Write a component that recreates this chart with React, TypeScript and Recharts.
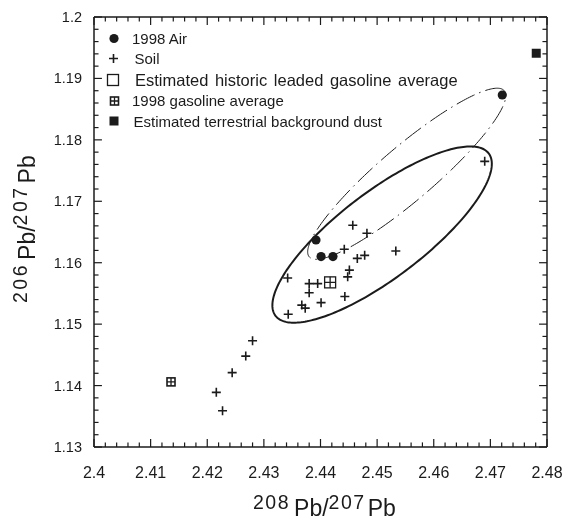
import React from 'react'
import { ScatterChart, Scatter, XAxis, YAxis, Legend, ReferenceLine } from 'recharts'

const FONT = '"Liberation Sans", Arial, Helvetica, sans-serif'
const INK = '#1b1b1b'

// sample points (208Pb/207Pb, 206Pb/207Pb)
const AIR = [
  { x: 2.4392, y: 1.1637 },
  { x: 2.4401, y: 1.1610 },
  { x: 2.4422, y: 1.1610 },
  { x: 2.4721, y: 1.1873 },
]

const SOIL = [
  { x: 2.4690, y: 1.1765 },
  { x: 2.4457, y: 1.1661 },
  { x: 2.4482, y: 1.1648 },
  { x: 2.4442, y: 1.1622 },
  { x: 2.4533, y: 1.1619 },
  { x: 2.4465, y: 1.1607 },
  { x: 2.4478, y: 1.1612 },
  { x: 2.4451, y: 1.1588 },
  { x: 2.4448, y: 1.1577 },
  { x: 2.4342, y: 1.1575 },
  { x: 2.4380, y: 1.1566 },
  { x: 2.4395, y: 1.1566 },
  { x: 2.4380, y: 1.1551 },
  { x: 2.4443, y: 1.1545 },
  { x: 2.4401, y: 1.1535 },
  { x: 2.4367, y: 1.1531 },
  { x: 2.4373, y: 1.1526 },
  { x: 2.4343, y: 1.1516 },
  { x: 2.4216, y: 1.1389 },
  { x: 2.4227, y: 1.1359 },
  { x: 2.4244, y: 1.1421 },
  { x: 2.4268, y: 1.1448 },
  { x: 2.4280, y: 1.1473 },
]

const HISTORIC_GAS = [{ x: 2.4417, y: 1.1568 }]
const GAS_1998 = [{ x: 2.4136, y: 1.1406 }]
const DUST = [{ x: 2.4781, y: 1.1941 }]

const X_DOMAIN = [2.4, 2.48]
const Y_DOMAIN = [1.13, 1.2]
const X_MAJOR = [2.4, 2.41, 2.42, 2.43, 2.44, 2.45, 2.46, 2.47, 2.48]
const X_LABELS = ['2.4', '2.41', '2.42', '2.43', '2.44', '2.45', '2.46', '2.47', '2.48']
const Y_MAJOR = [1.13, 1.14, 1.15, 1.16, 1.17, 1.18, 1.19, 1.2]
const Y_LABELS = ['1.13', '1.14', '1.15', '1.16', '1.17', '1.18', '1.19', '1.2']

// ellipses: centre + two conjugate half-axes, in data units
const SOIL_ELLIPSE = { cx: 2.45088, cy: 1.16458, ax: 0.01882, ay: 0.01322, bx: -0.00461, by: 0.00557 }
const AIR_ELLIPSE = { cx: 2.45523, cy: 1.17448, ax: 0.01722, ay: 0.01352, bx: -0.00309, by: 0.00335 }

// inward tick lengths, in the units of the perpendicular axis (major, minor)
const X_TICK_LEN = [0.0013, 0.00075]
const Y_TICK_LEN = [0.0014, 0.0008]

function withMinor(major: number[], steps: number) {
  const out: number[] = []
  for (let i = 0; i < major.length - 1; i++) {
    const step = (major[i + 1] - major[i]) / steps
    for (let k = 0; k < steps; k++) out.push(+(major[i] + k * step).toFixed(4))
  }
  out.push(major[major.length - 1])
  return out
}

function outline(e: typeof SOIL_ELLIPSE) {
  const pts: { x: number; y: number }[] = []
  for (let i = 0; i <= 240; i++) {
    const t = (i / 240) * Math.PI * 2
    pts.push({
      x: e.cx + e.ax * Math.cos(t) + e.bx * Math.sin(t),
      y: e.cy + e.ay * Math.cos(t) + e.by * Math.sin(t),
    })
  }
  return pts
}

const X_TICKS = withMinor(X_MAJOR, 5)
const Y_TICKS = withMinor(Y_MAJOR, 5)

const labelOf = (v: number, major: number[], labels: string[]) => {
  const i = major.findIndex((m) => Math.abs(m - v) < 1e-6)
  return i >= 0 ? labels[i] : null
}

function BottomLabel(p: any) {
  const lab = labelOf(p.payload.value, X_MAJOR, X_LABELS)
  if (!lab) return <g />
  return (
    <text x={p.x} y={Number(p.y) + 31} textAnchor="middle" fontSize={16} fill={INK} fontFamily={FONT}>{lab}</text>
  )
}

function LeftLabel(p: any) {
  const lab = labelOf(p.payload.value, Y_MAJOR, Y_LABELS)
  if (!lab) return <g />
  return (
    <text x={Number(p.x) - 12} y={Number(p.y) + 5} textAnchor="end" fontSize={14.5} fill={INK} fontFamily={FONT}>{lab}</text>
  )
}

// ---- marker shapes ----
const AirDot = ({ cx, cy }: any) => <circle cx={cx} cy={cy} r={4.6} fill={INK} />

const SoilPlus = ({ cx, cy }: any) => (
  <path d={`M${cx - 4.5},${cy}H${cx + 4.5}M${cx},${cy - 4.5}V${cy + 4.5}`} stroke={INK} strokeWidth={1.6} fill="none" />
)

const OpenSquare = ({ cx, cy, cross }: any) => (
  <g>
    <rect x={cx - 5.5} y={cy - 5.5} width={11} height={11} fill="#fff" stroke={INK} strokeWidth={1.3} />
    {cross && <path d={`M${cx - 5.5},${cy}H${cx + 5.5}M${cx},${cy - 5.5}V${cy + 5.5}`} stroke={INK} strokeWidth={1.3} />}
  </g>
)

const GridSquare = ({ cx, cy }: any) => (
  <g>
    <rect x={cx - 4} y={cy - 4} width={8} height={8} fill="#fff" stroke={INK} strokeWidth={1.6} />
    <path d={`M${cx - 4},${cy}H${cx + 4}M${cx},${cy - 4}V${cy + 4}`} stroke={INK} strokeWidth={1.3} />
  </g>
)

const SolidSquare = ({ cx, cy }: any) => <rect x={cx - 4.5} y={cy - 4.5} width={9} height={9} fill={INK} />

const NoMark = () => <g />

function LegendBox() {
  const t = { fontFamily: FONT, fontSize: 15, fill: INK }
  return (
    <svg width={564} height={140} style={{ display: 'block' }}>
      <AirDot cx={114} cy={38.5} />
      <text x={132} y={43.5} {...t}>1998 Air</text>
      <SoilPlus cx={113.5} cy={58.5} />
      <text x={134.5} y={63.5} {...t}>Soil</text>
      <OpenSquare cx={113} cy={80} />
      <text x={135} y={85.5} {...t} fontSize={16.5} wordSpacing={2}>Estimated historic leaded gasoline average</text>
      <GridSquare cx={114.5} cy={101} />
      <text x={132} y={106} {...t}>1998 gasoline average</text>
      <SolidSquare cx={114} cy={121} />
      <text x={133.5} y={126.5} {...t}>Estimated terrestrial background dust</text>
    </svg>
  )
}

export default function App() {
  const axisLine = { stroke: INK, strokeWidth: 1.5 }
  const tickLine = (key: string, a: { x: number; y: number }, b: { x: number; y: number }) => (
    <ReferenceLine
      key={key} xAxisId="b" yAxisId="l" segment={[a, b]}
      stroke={INK} strokeWidth={1.2} ifOverflow="visible"
    />
  )
  const xTickMarks = X_TICKS.flatMap((v) => {
    const len = labelOf(v, X_MAJOR, X_LABELS) ? X_TICK_LEN[0] : X_TICK_LEN[1]
    return [
      tickLine(`xb${v}`, { x: v, y: Y_DOMAIN[0] }, { x: v, y: Y_DOMAIN[0] + len }),
      tickLine(`xt${v}`, { x: v, y: Y_DOMAIN[1] }, { x: v, y: Y_DOMAIN[1] - len }),
    ]
  })
  const yTickMarks = Y_TICKS.flatMap((v) => {
    const len = labelOf(v, Y_MAJOR, Y_LABELS) ? Y_TICK_LEN[0] : Y_TICK_LEN[1]
    return [
      tickLine(`yl${v}`, { x: X_DOMAIN[0], y: v }, { x: X_DOMAIN[0] + len, y: v }),
      tickLine(`yr${v}`, { x: X_DOMAIN[1], y: v }, { x: X_DOMAIN[1] - len, y: v }),
    ]
  })

  return (
    <div style={{ position: 'fixed', left: 0, top: 0, width: 564, height: 522, fontFamily: FONT }}>
      <ScatterChart width={564} height={522} margin={{ top: 17, right: 17, left: 0, bottom: 0 }}>
        <XAxis
          xAxisId="b" type="number" dataKey="x" domain={X_DOMAIN} allowDataOverflow
          ticks={X_TICKS} interval={0} height={75} tickSize={0} tickMargin={0}
          tickLine={false} axisLine={axisLine} tick={(p: any) => <BottomLabel {...p} />}
        />
        <YAxis
          yAxisId="l" type="number" dataKey="y" domain={Y_DOMAIN} allowDataOverflow
          ticks={Y_TICKS} interval={0} width={94} tickSize={0} tickMargin={0}
          tickLine={false} axisLine={axisLine} tick={(p: any) => <LeftLabel {...p} />}
        />

        {/* frame: top and right edges */}
        <ReferenceLine xAxisId="b" yAxisId="l" y={Y_DOMAIN[1]} stroke={INK} strokeWidth={1.5} ifOverflow="visible" />
        <ReferenceLine xAxisId="b" yAxisId="l" x={X_DOMAIN[1]} stroke={INK} strokeWidth={1.5} ifOverflow="visible" />
        {xTickMarks}
        {yTickMarks}

        <Scatter
          xAxisId="b" yAxisId="l" data={outline(SOIL_ELLIPSE)} fill={INK}
          line={{ stroke: INK, strokeWidth: 2 }} lineType="joint" shape={NoMark} isAnimationActive={false}
        />
        <Scatter
          xAxisId="b" yAxisId="l" data={outline(AIR_ELLIPSE)} fill={INK}
          line={{ stroke: INK, strokeWidth: 1, strokeDasharray: '20 5 1.5 5' }} lineType="joint"
          shape={NoMark} isAnimationActive={false}
        />

        <Scatter xAxisId="b" yAxisId="l" data={SOIL} shape={SoilPlus} isAnimationActive={false} />
        <Scatter xAxisId="b" yAxisId="l" data={HISTORIC_GAS} shape={(p: any) => <OpenSquare {...p} cross />} isAnimationActive={false} />
        <Scatter xAxisId="b" yAxisId="l" data={AIR} shape={AirDot} isAnimationActive={false} />
        <Scatter xAxisId="b" yAxisId="l" data={GAS_1998} shape={GridSquare} isAnimationActive={false} />
        <Scatter xAxisId="b" yAxisId="l" data={DUST} shape={SolidSquare} isAnimationActive={false} />

        <Legend
          layout="vertical" align="center" verticalAlign="middle"
          wrapperStyle={{ position: 'absolute', left: 0, top: 0, width: 564, height: 140, pointerEvents: 'none' }}
          content={() => <LegendBox />}
        />

        {/* axis titles */}
        <text x={253} y={516} fontFamily={FONT} fill={INK}>
          <tspan fontSize={19.5} letterSpacing={1.5} dy={-7}>208</tspan>
          <tspan fontSize={23} dx={4} dy={7}>Pb/</tspan>
          <tspan fontSize={19.5} letterSpacing={1.5} dy={-7}>207</tspan>
          <tspan fontSize={23} dx={2} dy={7}>Pb</tspan>
        </text>
        <text transform="translate(35,303) rotate(-90)" fontFamily={FONT} fill={INK}>
          <tspan fontSize={19.5} letterSpacing={2.5} dy={-8}>206</tspan>
          <tspan fontSize={23} dx={3} dy={8}>Pb/</tspan>
          <tspan fontSize={19.5} letterSpacing={2.5} dy={-8}>207</tspan>
          <tspan fontSize={23} dx={2} dy={8}>Pb</tspan>
        </text>
      </ScatterChart>
    </div>
  )
}
